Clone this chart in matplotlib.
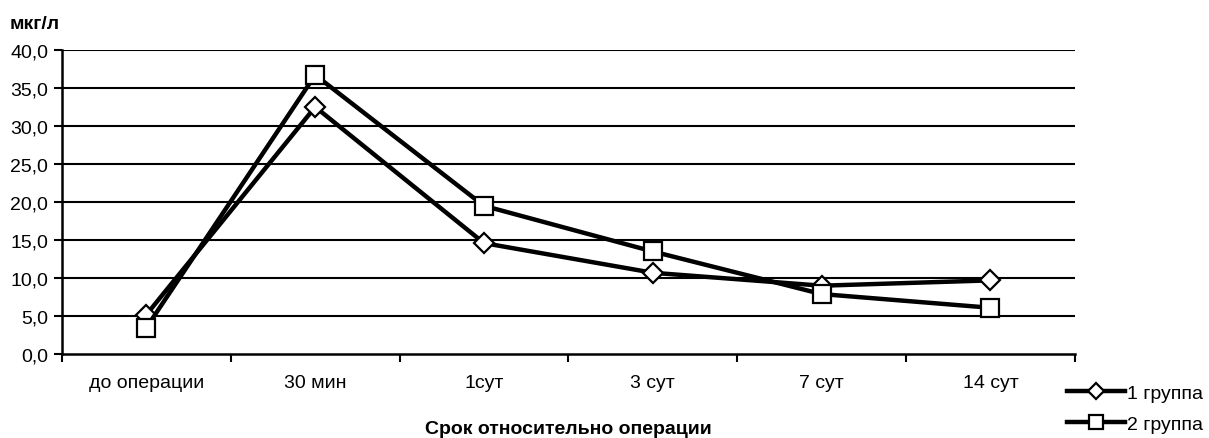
import matplotlib.pyplot as plt
from matplotlib.ticker import FixedLocator, NullFormatter

plt.rcParams['font.family'] = ['Liberation Sans', 'DejaVu Sans']

# data
categories = ["до операции", "30 мин", "1сут", "3 сут", "7 сут", "14 сут"]
group1 = [5.2, 32.5, 14.6, 10.7, 9.0, 9.7]
group2 = [3.5, 36.7, 19.5, 13.5, 7.9, 6.1]
y_ticks = [0, 5, 10, 15, 20, 25, 30, 35, 40]

fig = plt.figure(figsize=(12.09, 4.39), dpi=100)
ax = fig.add_axes([0.0513, 0.191, 0.8377, 0.693])

x = list(range(len(categories)))

# horizontal grid lines
for yv in y_ticks[1:]:
    ax.axhline(yv, color="black", linewidth=1.5, zorder=1)

ax.plot(x, group1, color="black", linewidth=3.2, marker="D", markersize=10,
        markerfacecolor="white", markeredgecolor="black", markeredgewidth=1.6,
        label="1 группа", zorder=3)
ax.plot(x, group2, color="black", linewidth=3.2, marker="s", markersize=12.5,
        markerfacecolor="white", markeredgecolor="black", markeredgewidth=1.6,
        label="2 группа", zorder=4)

ax.set_xlim(-0.5, len(categories) - 0.5)
ax.set_ylim(0, 40)
ax.set_yticks(y_ticks)
ax.set_yticklabels([f"{v:.1f}".replace(".", ",") for v in y_ticks], fontsize=14)
ax.set_xticks(x)
ax.set_xticklabels(categories, fontsize=14)
ax.tick_params(axis="x", which="major", length=0, pad=14)
ax.xaxis.set_minor_locator(FixedLocator([i - 0.5 for i in range(len(categories) + 1)]))
ax.xaxis.set_minor_formatter(NullFormatter())
ax.tick_params(axis="x", which="minor", length=6, width=1.5, direction="out")
ax.tick_params(axis="y", length=6, width=1.5, direction="out", pad=4)

for s in ["top", "right"]:
    ax.spines[s].set_visible(False)
for s in ["left", "bottom"]:
    ax.spines[s].set_linewidth(1.8)

fig.text(0.47, 0.021, "Срок относительно операции", fontsize=14, fontweight="bold",
         ha="center", va="center")
fig.text(0.008, 0.935, "мкг/л", fontsize=14, fontweight="bold")

fig.legend(loc="upper left", bbox_to_anchor=(0.8826, 0.122), frameon=False, fontsize=14,
           handlelength=3.0, handletextpad=0.1, borderaxespad=0, borderpad=0,
           labelspacing=0.68, markerscale=0.85)

fig.savefig("out.png", dpi=100)
